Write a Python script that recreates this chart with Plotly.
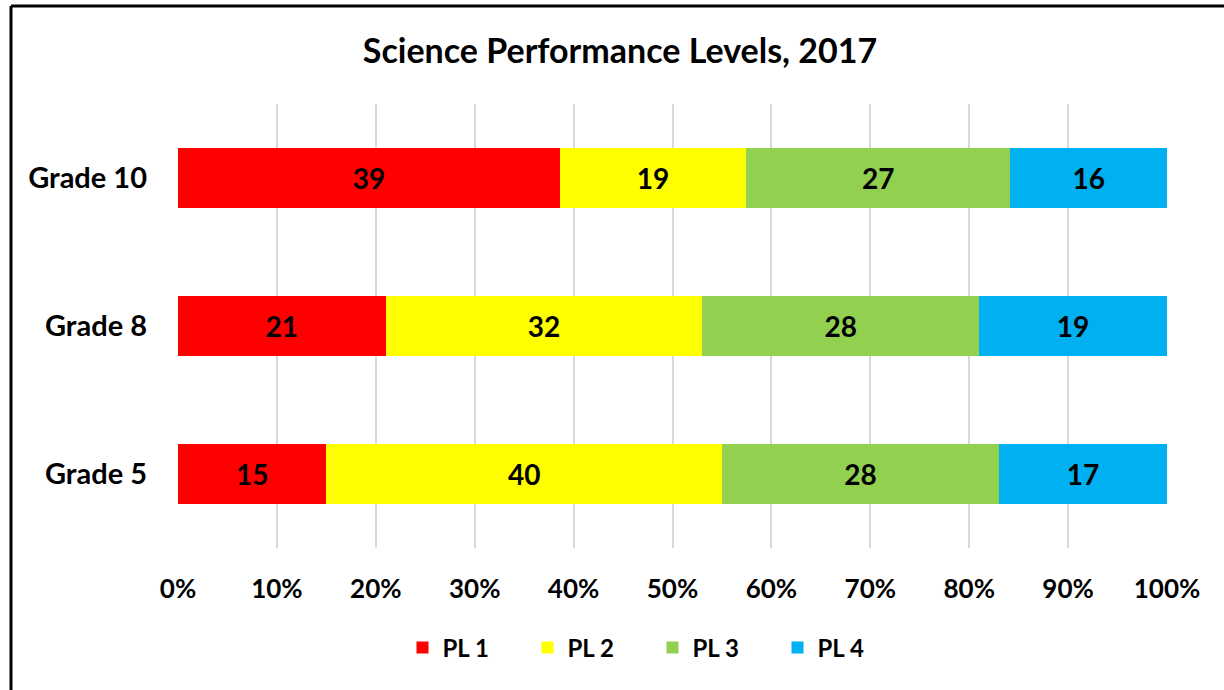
import plotly.graph_objects as go

categories = ["Grade 5", "Grade 8", "Grade 10"]
series_names = ["PL 1", "PL 2", "PL 3", "PL 4"]
pl1 = [15, 21, 39]
pl2 = [40, 32, 19]
pl3 = [28, 28, 27]
pl4 = [17, 19, 16]
colors = ["#ff0000", "#ffff00", "#92d050", "#00b0f0"]
tick_vals = [0, 10, 20, 30, 40, 50, 60, 70, 80, 90, 100]
tick_text = [f"{v}%" for v in tick_vals]

FONT = "Lato"
W, H = 1224, 690
L, R, T, B = 178, 57, 104, 142
PW, PH = W - L - R, H - T - B

fig = go.Figure()
for name, vals, col in zip(series_names, [pl1, pl2, pl3, pl4], colors):
    fig.add_trace(go.Bar(
        name=name, y=categories, x=vals, orientation="h",
        marker=dict(color=col, line=dict(width=0)),
        text=[str(v) for v in vals], textposition="inside",
        insidetextanchor="middle",
        textfont=dict(family=FONT, size=28, color="black", weight="bold"),
        constraintext="none",
    ))

fig.update_layout(
    barmode="stack", barnorm="percent", bargap=0.6,
    width=W, height=H,
    margin=dict(l=L, r=R, t=T, b=B),
    paper_bgcolor="white", plot_bgcolor="white",
    font=dict(family=FONT, color="black"),
    title=dict(text="<b>Science Performance Levels, 2017</b>",
               x=620 / W, xanchor="center", y=1 - 51 / H, yanchor="middle",
               font=dict(family=FONT, size=34, color="black")),
    xaxis=dict(range=[0, 100], tickvals=tick_vals, ticktext=tick_text,
               showgrid=True, gridcolor="#d9d9d9", gridwidth=2,
               zeroline=False, showline=False,
               tickfont=dict(family=FONT, size=26, color="black", weight="bold"),
               ticklabelstandoff=23, fixedrange=True),
    yaxis=dict(showgrid=False, zeroline=False, showline=False,
               tickfont=dict(family=FONT, size=29, color="black", weight="bold"),
               ticklabelstandoff=30),
    legend=dict(orientation="h", x=0.5 - 20 / PW, xanchor="center", xref="paper",
                y=-(648 - (T + PH)) / PH, yanchor="middle",
                font=dict(family=FONT, size=24, color="black", weight="bold"),
                entrywidth=80, traceorder="normal"),
    showlegend=True,
)

# chart border (left and top edges visible)
bx = (11 - L) / PW
by = 1 + (T - 6) / PH
fig.add_shape(type="line", xref="paper", yref="paper",
              x0=bx, x1=bx, y0=-(B + 20) / PH, y1=by,
              line=dict(color="black", width=3))
fig.add_shape(type="line", xref="paper", yref="paper",
              x0=bx, x1=1 + (R + 20) / PW, y0=by, y1=by,
              line=dict(color="black", width=3))

fig.write_html("out.html", config={"displayModeBar": False},
               post_script="document.body.style.margin='0';document.body.style.overflow='hidden';")
